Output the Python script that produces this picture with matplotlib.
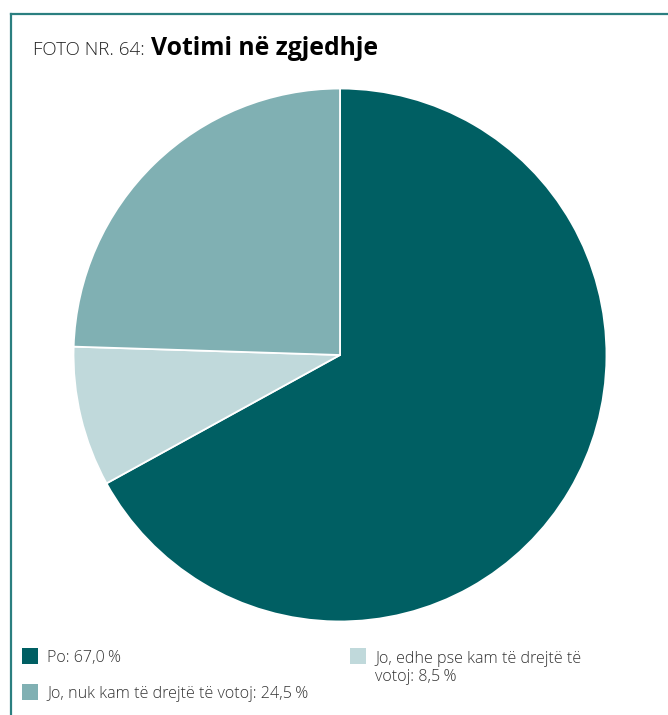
import matplotlib.pyplot as plt
from matplotlib.lines import Line2D
from matplotlib.patches import Rectangle

plt.rcParams['font.family'] = ['Open Sans', 'DejaVu Sans']

# data
labels = ['Po: 67,0\u2009%', 'Jo, edhe pse kam të drejtë të\nvotoj: 8,5\u2009%',
          'Jo, nuk kam të drejtë të votoj: 24,5\u2009%']
values = [67.0, 8.5, 24.5]
colors = ['#005f63', '#c0d9db', '#80b0b3']

W, H = 668, 715
fig = plt.figure(figsize=(W / 100, H / 100), dpi=100)

def fx(px):
    return px / W

def fy(py):
    return 1 - py / H

# frame lines (top and left)
border = '#2b7f80'
fig.add_artist(Line2D([fx(11), 1], [fy(14), fy(14)], color=border, lw=1.6))
fig.add_artist(Line2D([fx(11), fx(11)], [fy(14), 0], color=border, lw=1.6))

# title
t1 = fig.text(fx(33), fy(55), 'FOTO NR. 64:', fontsize=13.5, color='#222222',
              fontweight='light', va='baseline')
r = fig.canvas.get_renderer()
bb = t1.get_window_extent(r)
fig.text(bb.x1 / W + fx(6), fy(55), 'Votimi në zgjedhje', fontsize=17.8,
         fontweight='bold', color='black', va='baseline')

# pie
cx, cy, rad = 340, 355, 267
ax = fig.add_axes([fx(cx - rad), fy(cy + rad), fx(2 * rad), (2 * rad) / H])
wedges, _ = ax.pie(values, colors=colors, startangle=90, counterclock=False,
                   wedgeprops=dict(edgecolor='white', linewidth=1.3))
ax.set_xlim(-1.002, 1.002)
ax.set_ylim(-1.002, 1.002)
ax.set_aspect('equal')
ax.axis('off')

# legend (manual layout)
legend_pos = [(22, 648), (350, 648), (22, 684)]
for w, lab, (x, y) in zip(wedges, labels, legend_pos):
    fig.add_artist(Rectangle((fx(x), fy(y + 16)), fx(16), 16 / H,
                             facecolor=w.get_facecolor(), edgecolor='none'))
    nl = lab.count('\n')
    fig.text(fx(x + 25), fy(y + 14 + 19 * nl), lab, fontsize=11.6, color='#333333',
             fontweight='light', va='baseline', linespacing=1.15)

fig.savefig('out.png', dpi=100)
